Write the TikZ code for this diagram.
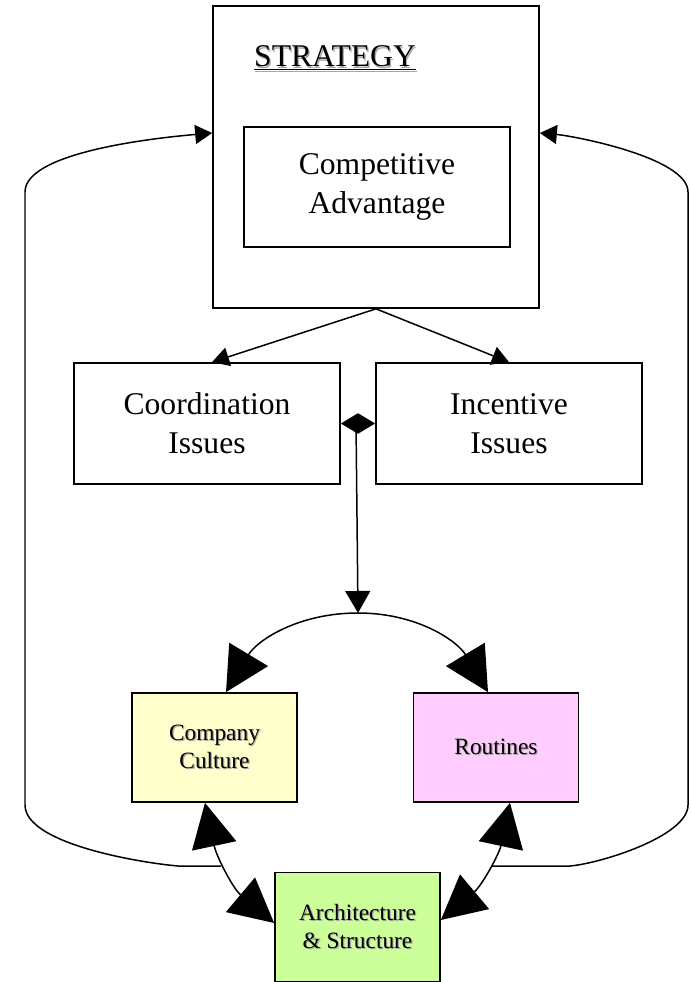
\documentclass[tikz,border=0pt]{standalone}
\usepackage{fontspec}
\setmainfont{Liberation Serif}
\usetikzlibrary{arrows.meta}

\definecolor{cultureyellow}{HTML}{FFFFCC}
\definecolor{routinepink}{HTML}{FFCCFF}
\definecolor{archgreen}{HTML}{CCFF99}

\newcommand\shadowed[1]{\leavevmode\rlap{\hspace{0.7pt}\raisebox{-0.7pt}{\textcolor{black!35}{#1}}}#1}

\begin{document}
\begin{tikzpicture}[x=0.02cm,y=0.02cm,
  box/.style={draw,line width=1pt,align=center,inner sep=0pt},
  bigbox/.style={box,font=\fontsize{18}{22}\selectfont},
  smallbox/.style={box,minimum width=3.3cm,minimum height=2.18cm,
    font=\fontsize{13.3}{16}\selectfont},
  link/.style={line width=0.85pt},
  medarrow/.style={link,-{Triangle[length=0.34cm,width=0.38cm]}},
  bigtip/.style={link,{Triangle[length=0.88cm,width=0.9cm]}-{Triangle[length=0.88cm,width=0.9cm]}}]

  \useasboundingbox (0,0) rectangle (690,-982);

  % nodes
  \node[bigbox,minimum width=6.52cm,minimum height=6.04cm] (strat) at (376,-157) {};
  \node[font=\fontsize{18}{22}\selectfont] (title) at (335,-59) {\shadowed{\underline{STRATEGY}}};
  \node[bigbox,minimum width=5.32cm,minimum height=2.4cm] (adv) at (377,-187) {Competitive\\Advantage};
  \node[bigbox,minimum width=5.32cm,minimum height=2.42cm] (coord) at (207,-423.5) {Coordination\\Issues};
  \node[bigbox,minimum width=5.32cm,minimum height=2.42cm] (incent) at (509,-423.5) {Incentive\\Issues};
  \node[smallbox,fill=cultureyellow] (culture) at (214.5,-747.5) {\shadowed{Company}\\\shadowed{Culture}};
  \node[smallbox,fill=routinepink] (routines) at (496,-747.5) {\shadowed{Routines}};
  \node[smallbox,fill=archgreen] (arch) at (357.5,-927) {\shadowed{Architecture}\\\shadowed{\& Structure}};

  \coordinate (mid) at (356,-423);
  \coordinate (peak) at (358,-613);
  \coordinate (lfoot) at (221,-866);
  \coordinate (rfoot) at (492,-866);

  % arrows
  \draw[medarrow] (strat.south) -- ([xshift=0.1cm]coord.north);
  \draw[medarrow] (strat.south) -- (incent.north);
  \draw[link,{Triangle[length=0.34cm,width=0.4cm]}-{Triangle[length=0.34cm,width=0.4cm]}] (coord.east) -- (incent.west);
  \draw[link,-{Triangle[length=0.44cm,width=0.5cm]}] (mid) -- (peak);
  \draw[link,-{Triangle[length=0.88cm,width=0.9cm]}] (peak) to[out=180,in=59] ([xshift=0.23cm]culture.north);
  \draw[link,-{Triangle[length=0.88cm,width=0.9cm]}] (peak) to[out=0,in=121] ([xshift=-0.16cm]routines.north);
  \draw[bigtip] ([xshift=-0.19cm]culture.south) to[out=-78,in=140] ([yshift=0.08cm]arch.west);
  \draw[bigtip] ([xshift=0.28cm]routines.south) to[out=-102,in=40] ([yshift=0.14cm]arch.east);

  % loops back to strategy
  \draw[medarrow] (lfoot) -- (178,-866) to[out=175,in=-90,looseness=0.6] (25,-805) -- (25,-192)
    to[out=90,in=185,looseness=0.55] ([yshift=0.48cm]strat.west);
  \draw[medarrow] (rfoot) -- (570,-866) to[out=5,in=-90,looseness=0.6] (688,-805) -- (688,-192)
    to[out=90,in=-5,looseness=0.55] ([yshift=0.48cm]strat.east);

\end{tikzpicture}
\end{document}
